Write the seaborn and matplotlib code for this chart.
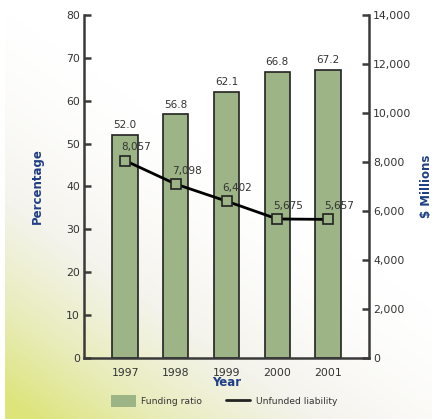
import numpy as np
import pandas as pd
import matplotlib
matplotlib.use("Agg")
import matplotlib.pyplot as plt
import seaborn as sns
from matplotlib.patches import Patch
from matplotlib.lines import Line2D
from matplotlib.colors import LinearSegmentedColormap

years = ["1997", "1998", "1999", "2000", "2001"]
funding_ratio = [52.0, 56.8, 62.1, 66.8, 67.2]
unfunded_liability = [8057, 7098, 6402, 5675, 5657]
left_ticks = [0, 10, 20, 30, 40, 50, 60, 70, 80]
right_ticks = [0, 2000, 4000, 6000, 8000, 10000, 12000, 14000]

sns.set_theme(style="white")
plt.rcParams["font.family"] = ["DejaVu Sans"]

bar_color = "#9cb486"
axis_color = "#3a3a3a"
label_color = "#1f3f86"
text_color = "#333333"

fig = plt.figure(figsize=(4.32, 4.19), dpi=100)

# soft diagonal wash behind the chart
bg = fig.add_axes([5 / 432, 0, 1 - 5 / 432, 1], zorder=-10)
h, w = 200, 200
yy, xx = np.mgrid[0:h, 0:w]
t = np.clip((yy / h) * 1.05 - (xx / w) * 0.75, 0, 1) ** 1.6
cmap = LinearSegmentedColormap.from_list("wash", ["#ffffff", "#f4f3ec", "#e8ecb8", "#dde47a"])
bg.imshow(t, cmap=cmap, aspect="auto", origin="upper", vmin=0, vmax=1)
bg.axis("off")

ax = fig.add_axes([84 / 432, 1 - 358 / 419, (369 - 84) / 432, (358 - 15) / 419])
ax.patch.set_alpha(0)

df = pd.DataFrame({"Year": years, "Funding ratio": funding_ratio,
                   "Unfunded liability": unfunded_liability})

sns.barplot(data=df, x="Year", y="Funding ratio", ax=ax, color=bar_color,
            width=0.5, edgecolor="#222222", linewidth=1.2, saturation=1)
ax.set_xlim(-0.81, 4.81)
ax.set_ylim(0, 80)
ax.set_yticks(left_ticks)

for i, v in enumerate(funding_ratio):
    ax.annotate(f"{v:.1f}", (i, v), xytext=(0, 7), textcoords="offset points",
                ha="center", va="center", fontsize=7.5, color=text_color)

ax2 = ax.twinx()
ax2.patch.set_alpha(0)
sns.lineplot(x=np.arange(len(years)), y=unfunded_liability, ax=ax2, color="black",
             linewidth=2, marker="s", markersize=7, markerfacecolor=bar_color,
             markeredgecolor="#222222", markeredgewidth=1.2)
ax2.set_ylim(0, 14000)
ax2.set_yticks(right_ticks)
ax2.set_yticklabels([f"{v:,}" for v in right_ticks])

for i, v in enumerate(unfunded_liability):
    ax2.annotate(f"{v:,}", (i, v), xytext=(8, 9.5), textcoords="offset points",
                 ha="center", va="center", fontsize=7.5, color=text_color)

for a in (ax, ax2):
    a.spines["top"].set_visible(False)
    for s in ("left", "right", "bottom"):
        a.spines[s].set_color(axis_color)
        a.spines[s].set_linewidth(1.8)
    a.tick_params(axis="y", length=5, width=1.8, color=axis_color, direction="in",
                  labelsize=7.8, labelcolor=text_color, pad=3)

ax.tick_params(axis="y", left=True, right=False)
ax2.tick_params(axis="y", left=False, right=True)
ax.tick_params(axis="x", bottom=False, labelsize=7.8, labelcolor=text_color, pad=1)
ax2.spines["left"].set_visible(False)
ax2.spines["bottom"].set_visible(False)
ax.spines["right"].set_visible(False)

ax.set_xlabel("Year", fontsize=8.5, fontweight="bold", color=label_color, labelpad=-1)
ax.set_ylabel("Percentage", fontsize=8.5, fontweight="bold", color=label_color, labelpad=16)
ax2.set_ylabel("$ Millions", fontsize=8.5, fontweight="bold", color=label_color,
               rotation=90, labelpad=6)

handles = [Patch(facecolor=bar_color, edgecolor="none"),
           Line2D([0], [0], color="#222222", linewidth=2)]
fig.legend(handles, ["Funding ratio", "Unfunded liability"], loc="center",
           bbox_to_anchor=(224 / 432, 1 - 401 / 419), ncol=2, frameon=False,
           fontsize=6.6, handlelength=2.7, handleheight=1.6, columnspacing=2.6,
           handletextpad=0.55, labelcolor=text_color)

fig.savefig("out.png", dpi=100)
